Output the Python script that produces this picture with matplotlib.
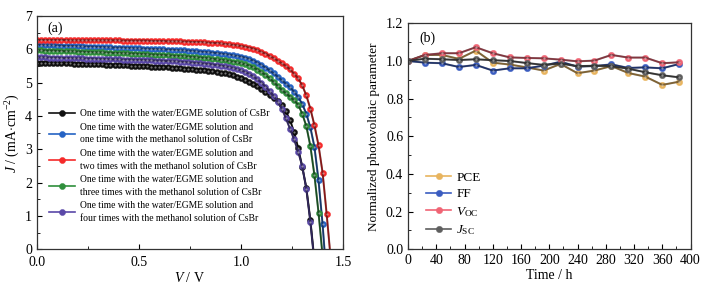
import numpy as np
import matplotlib
matplotlib.use("Agg")
import matplotlib.pyplot as plt
from matplotlib.ticker import MultipleLocator

plt.rcParams['font.family'] = ['Liberation Serif', 'DejaVu Serif']
plt.rcParams['mathtext.fontset'] = 'custom'
plt.rcParams['mathtext.rm'] = 'Liberation Serif'
plt.rcParams['mathtext.it'] = 'Liberation Serif:italic'

# ---------------- Panel (a) data: J-V curves (V step 0.02 V) ----------------
v_step = 0.02
j_black = [5.60, 5.60, 5.60, 5.59, 5.59, 5.59, 5.58, 5.58, 5.58, 5.57,
           5.57, 5.57, 5.56, 5.56, 5.55, 5.55, 5.55, 5.54, 5.54, 5.53,
           5.53, 5.52, 5.52, 5.51, 5.51, 5.50, 5.50, 5.49, 5.48, 5.48,
           5.47, 5.46, 5.46, 5.45, 5.44, 5.43, 5.42, 5.41, 5.40, 5.39,
           5.38, 5.37, 5.36, 5.34, 5.32, 5.30, 5.28, 5.25, 5.22, 5.18,
           5.14, 5.09, 5.03, 4.97, 4.90, 4.82, 4.73, 4.64, 4.55, 4.45,
           4.33, 4.14, 3.88, 3.52, 3.05, 2.48, 1.85, 0.88, -0.35]
j_blue = [6.13, 6.13, 6.12, 6.12, 6.12, 6.11, 6.11, 6.10, 6.10, 6.10,
          6.09, 6.09, 6.08, 6.08, 6.08, 6.07, 6.07, 6.06, 6.06, 6.05,
          6.05, 6.05, 6.04, 6.04, 6.03, 6.03, 6.02, 6.02, 6.01, 6.01,
          6.00, 6.00, 5.99, 5.99, 5.98, 5.97, 5.97, 5.96, 5.95, 5.94,
          5.93, 5.92, 5.91, 5.90, 5.89, 5.87, 5.86, 5.84, 5.82, 5.80,
          5.78, 5.75, 5.71, 5.66, 5.60, 5.53, 5.45, 5.37, 5.28, 5.18,
          5.07, 4.97, 4.86, 4.73, 4.57, 4.36, 4.07, 3.66, 3.07, 2.07,
          0.75, -0.90]
j_red = [6.28, 6.28, 6.28, 6.28, 6.28, 6.28, 6.28, 6.28, 6.27, 6.27,
         6.27, 6.27, 6.27, 6.27, 6.27, 6.27, 6.27, 6.27, 6.27, 6.27,
         6.27, 6.26, 6.26, 6.26, 6.26, 6.26, 6.26, 6.26, 6.25, 6.25,
         6.25, 6.25, 6.24, 6.24, 6.24, 6.24, 6.23, 6.23, 6.22, 6.22,
         6.22, 6.21, 6.20, 6.19, 6.19, 6.18, 6.16, 6.15, 6.13, 6.12,
         6.10, 6.08, 6.05, 6.02, 5.98, 5.92, 5.87, 5.80, 5.74, 5.66,
         5.58, 5.50, 5.40, 5.27, 5.13, 4.92, 4.62, 4.22, 3.72, 3.12,
         2.30, 1.05, -0.30]
j_green = [5.97, 5.97, 5.96, 5.96, 5.96, 5.95, 5.95, 5.94, 5.94, 5.94,
           5.93, 5.93, 5.92, 5.92, 5.91, 5.91, 5.91, 5.90, 5.90, 5.89,
           5.89, 5.88, 5.88, 5.87, 5.87, 5.86, 5.86, 5.85, 5.84, 5.84,
           5.83, 5.83, 5.82, 5.81, 5.80, 5.80, 5.79, 5.78, 5.77, 5.76,
           5.75, 5.74, 5.73, 5.71, 5.70, 5.68, 5.67, 5.65, 5.63, 5.61,
           5.58, 5.55, 5.51, 5.46, 5.39, 5.31, 5.23, 5.13, 5.02, 4.90,
           4.78, 4.68, 4.58, 4.47, 4.34, 4.07, 3.70, 3.10, 2.22, 1.10,
           -0.20]
j_purple = [5.76, 5.76, 5.76, 5.75, 5.75, 5.75, 5.74, 5.74, 5.74, 5.73,
            5.73, 5.73, 5.72, 5.72, 5.72, 5.71, 5.71, 5.71, 5.70, 5.70,
            5.70, 5.69, 5.69, 5.69, 5.68, 5.68, 5.68, 5.67, 5.67, 5.66,
            5.66, 5.65, 5.65, 5.64, 5.64, 5.63, 5.62, 5.61, 5.60, 5.59,
            5.58, 5.57, 5.56, 5.54, 5.53, 5.51, 5.49, 5.47, 5.44, 5.41,
            5.37, 5.32, 5.26, 5.19, 5.10, 5.00, 4.88, 4.75, 4.60, 4.42,
            4.22, 3.93, 3.62, 3.30, 2.93, 2.50, 1.82, 0.82, -0.40]

labels_a = [
    "One time with the water/EGME solution of CsBr",
    "One time with the water/EGME solution and\none time with the methanol solution of CsBr",
    "One time with the water/EGME solution and\ntwo times with the methanol solution of CsBr",
    "One time with the water/EGME solution and\nthree times with the methanol solution of CsBr",
    "One time with the water/EGME solution and\nfour times with the methanol solution of CsBr",
]
series_a = [j_black, j_blue, j_red, j_green, j_purple]
colors_a = ['#111111', '#2563c4', '#f52a2a', '#2f8f3c', '#5a48a8']

# ---------------- Panel (b) data: stability ----------------
time_h = [0, 24, 48, 72, 96, 120, 144, 168, 192, 216, 240, 264, 288, 312, 336, 360, 384]
pce = [1.000, 1.032, 1.032, 1.011, 1.055, 0.991, 0.981, 0.966, 0.949, 0.984,
       0.935, 0.949, 0.973, 0.936, 0.917, 0.873, 0.890]
ff = [1.000, 0.991, 0.988, 0.968, 0.979, 0.949, 0.961, 0.961, 0.975, 0.996,
      0.970, 0.973, 0.982, 0.963, 0.966, 0.961, 0.984]
voc = [1.000, 1.032, 1.041, 1.041, 1.073, 1.041, 1.019, 1.016, 1.014, 1.007,
       0.998, 1.002, 1.032, 1.018, 1.018, 0.988, 0.993]
jsc = [1.000, 1.012, 1.009, 1.005, 1.009, 1.004, 1.000, 0.989, 0.979, 0.986,
       0.972, 0.975, 0.972, 0.959, 0.940, 0.924, 0.913]
labels_b = ['PCE', 'FF', r'$V_{\rm OC}$', r'$J_{\rm SC}$']
series_b = [pce, ff, voc, jsc]
colors_b = ['#e8b45e', '#3a5cc0', '#f06474', '#5e5e5e']

W, H = 711, 287
fig = plt.figure(figsize=(W / 100, H / 100), dpi=100)


def ball_plot(ax, x, y, c, lab, ms):
    ax.plot(x, y, '-', color=c, lw=1.2, marker='o', ms=ms, mfc=c,
            mec=c, mew=0.3, label=lab)
    ax.plot(x, y, 'none', marker='o', ms=ms * 0.35, mfc='white', mec='none',
            alpha=0.45)


# ---- panel (a)
axa = fig.add_axes([37 / W, 1 - 249.3 / H, (343 - 37) / W, (249.3 - 16) / H])
for js, c, lab in zip(series_a, colors_a, labels_a):
    v = np.arange(len(js)) * v_step
    ball_plot(axa, v, js, c, lab, 4.4)
axa.set_xlim(0, 1.5)
axa.set_ylim(0, 7)
axa.xaxis.set_major_locator(MultipleLocator(0.5))
axa.xaxis.set_minor_locator(MultipleLocator(0.25))
axa.yaxis.set_major_locator(MultipleLocator(1))
axa.yaxis.set_minor_locator(MultipleLocator(0.5))
axa.tick_params(which='both', direction='in', top=False, right=False, labelsize=10)
axa.tick_params(which='major', length=3.5)
axa.tick_params(which='minor', length=2)
axa.tick_params(axis='x', pad=5)
axa.set_xlabel(r'$V$ / V', fontsize=10, labelpad=1)
axa.set_ylabel(r'$J$ / (mA$\cdot$cm$^{-2}$)', fontsize=10, labelpad=2)
axa.text(0.035, 0.975, '(a)', transform=axa.transAxes, fontsize=10, va='top')
leg = axa.legend(loc='upper left', bbox_to_anchor=(0.04, 0.6), frameon=False,
                 fontsize=6.9, handlelength=2.7, handletextpad=0.55,
                 labelspacing=0.45, borderaxespad=0.0, borderpad=0.0)
for t in leg.get_texts():
    t.set_linespacing(1.55)

# ---- panel (b)
axb = fig.add_axes([408 / W, 1 - 249.3 / H, (690.5 - 408) / W, (249.3 - 23.3) / H])
for s, c, lab in zip(series_b, colors_b, labels_b):
    ball_plot(axb, time_h, s, c, lab, 4.6)
axb.set_xlim(0, 400)
axb.set_ylim(0, 1.2)
axb.xaxis.set_major_locator(MultipleLocator(40))
axb.xaxis.set_minor_locator(MultipleLocator(20))
axb.yaxis.set_major_locator(MultipleLocator(0.2))
axb.yaxis.set_minor_locator(MultipleLocator(0.1))
axb.tick_params(which='both', direction='in', top=False, right=False, labelsize=10)
axb.tick_params(which='major', length=3.5)
axb.tick_params(which='minor', length=2)
axb.set_xlabel('Time / h', fontsize=10, labelpad=1)
axb.set_ylabel('Normalized photovoltaic parameter', fontsize=9.5, labelpad=4)
axb.text(0.04, 0.965, '(b)', transform=axb.transAxes, fontsize=10, va='top')
axb.legend(loc='lower left', bbox_to_anchor=(0.045, 0.03), frameon=False,
           fontsize=9.5, handlelength=1.9, handletextpad=0.4,
           labelspacing=0.35, borderaxespad=0.0)

for ax in (axa, axb):
    for sp in ax.spines.values():
        sp.set_linewidth(0.9)
        sp.set_color('#333333')

fig.savefig('out.png', dpi=100)
